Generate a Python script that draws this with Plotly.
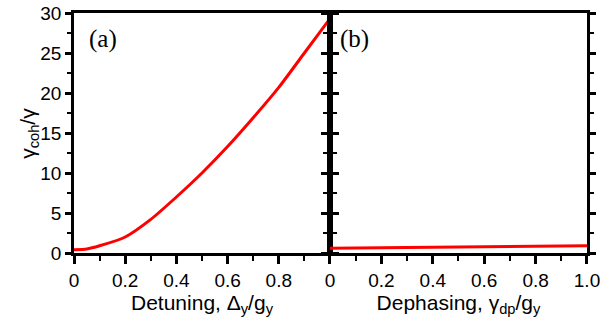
import plotly.graph_objects as go

# panel (a): coherent decay rate vs detuning
detuning = [0.0, 0.05, 0.1, 0.2, 0.3, 0.4, 0.5, 0.6, 0.7, 0.8, 0.9, 1.0]
rate_a = [0.4, 0.5, 0.9, 2.0, 4.2, 7.0, 10.0, 13.3, 16.9, 20.7, 25.0, 29.3]

# panel (b): coherent decay rate vs dephasing
dephasing = [0.0, 0.2, 0.4, 0.6, 0.8, 1.0]
rate_b = [0.6, 0.65, 0.7, 0.8, 0.85, 0.9]

xticks_a = [0, 0.2, 0.4, 0.6, 0.8]
xlabels_a = ["0", "0.2", "0.4", "0.6", "0.8"]
xticks_b = [0, 0.2, 0.4, 0.6, 0.8, 1.0]
xlabels_b = ["0", "0.2", "0.4", "0.6", "0.8", "1.0"]
yticks = [0, 5, 10, 15, 20, 25, 30]

RED = "#ff0000"
FONT = "Liberation Sans"
SERIF = "Liberation Serif"
split = 0.499

fig = go.Figure()
fig.add_trace(go.Scatter(x=detuning, y=rate_a, mode="lines",
                         line=dict(color=RED, width=3, shape="spline",
                                   smoothing=0.6),
                         xaxis="x", yaxis="y"))
fig.add_trace(go.Scatter(x=dephasing, y=rate_b, mode="lines",
                         line=dict(color=RED, width=3), xaxis="x2", yaxis="y2"))

tickfont = dict(family=FONT, size=19, color="black")
titlefont = dict(family=FONT, size=21, color="black")


def xaxis(domain, anchor, vals, labels, title):
    return dict(domain=domain, anchor=anchor, range=[0, 1], automargin=False,
                showline=True, linecolor="black", linewidth=2.5, mirror=True,
                showgrid=False, zeroline=False,
                tickvals=vals, ticktext=labels, ticks="outside", ticklen=8,
                tickwidth=2.5, tickcolor="black", tickfont=tickfont,
                minor=dict(dtick=0.1, ticklen=5, tickwidth=2,
                           tickcolor="black", ticks="outside"),
                title=dict(text=title, font=titlefont, standoff=0))


def yaxis(anchor, side_ticks, line, labels, overlaying=None):
    d = dict(anchor=anchor, range=[0, 30], showgrid=False, zeroline=False,
             automargin=False,
             showline=line, linecolor="black", linewidth=2.5,
             tickvals=yticks, ticks=side_ticks, ticklen=6, tickwidth=2.5,
             tickcolor="black", mirror="ticks", showticklabels=labels,
             tickfont=tickfont,
             minor=dict(dtick=2.5, ticklen=4, tickwidth=2,
                        tickcolor="black", ticks=side_ticks))
    if overlaying:
        d["overlaying"] = overlaying
    return d


fig.update_layout(
    width=605, height=320,
    margin=dict(l=74, r=18, t=13, b=67),
    plot_bgcolor="white", paper_bgcolor="white",
    showlegend=False,
    xaxis=xaxis([0, split], "y", xticks_a, xlabels_a,
                "Detuning, Δ<sub>y</sub>/g<sub>y</sub>"),
    xaxis2=xaxis([split, 1], "y2", xticks_b, xlabels_b,
                 "Dephasing, γ<sub>dp</sub>/g<sub>y</sub>"),
    yaxis=yaxis("x", "outside", True, True),
    yaxis3=yaxis("x", "inside", False, False, overlaying="y"),
    yaxis2=yaxis("x2", "outside", True, False),
    yaxis4=yaxis("x2", "inside", False, False, overlaying="y2"),
)

# y title placed as a rotated annotation so it sits where the original has it
fig.add_annotation(text="γ<sub>coh</sub>/γ", x=-0.088, y=0.5, xref="paper",
                   yref="paper", xanchor="center", yanchor="middle",
                   textangle=-90, showarrow=False, font=titlefont)

fig.add_annotation(text="(a)", x=0.05, y=0.89, xref="x domain", yref="y domain",
                   xanchor="left", yanchor="middle", showarrow=False,
                   font=dict(family=SERIF, size=25, color="black"))
fig.add_annotation(text="(b)", x=0.03, y=0.89, xref="x2 domain", yref="y2 domain",
                   xanchor="left", yanchor="middle", showarrow=False,
                   font=dict(family=SERIF, size=25, color="black"))

# the page's default 8px body margin would push the figure off-window
fig.write_html("out.html", config={"displayModeBar": False},
               post_script="document.body.style.margin='0';")
